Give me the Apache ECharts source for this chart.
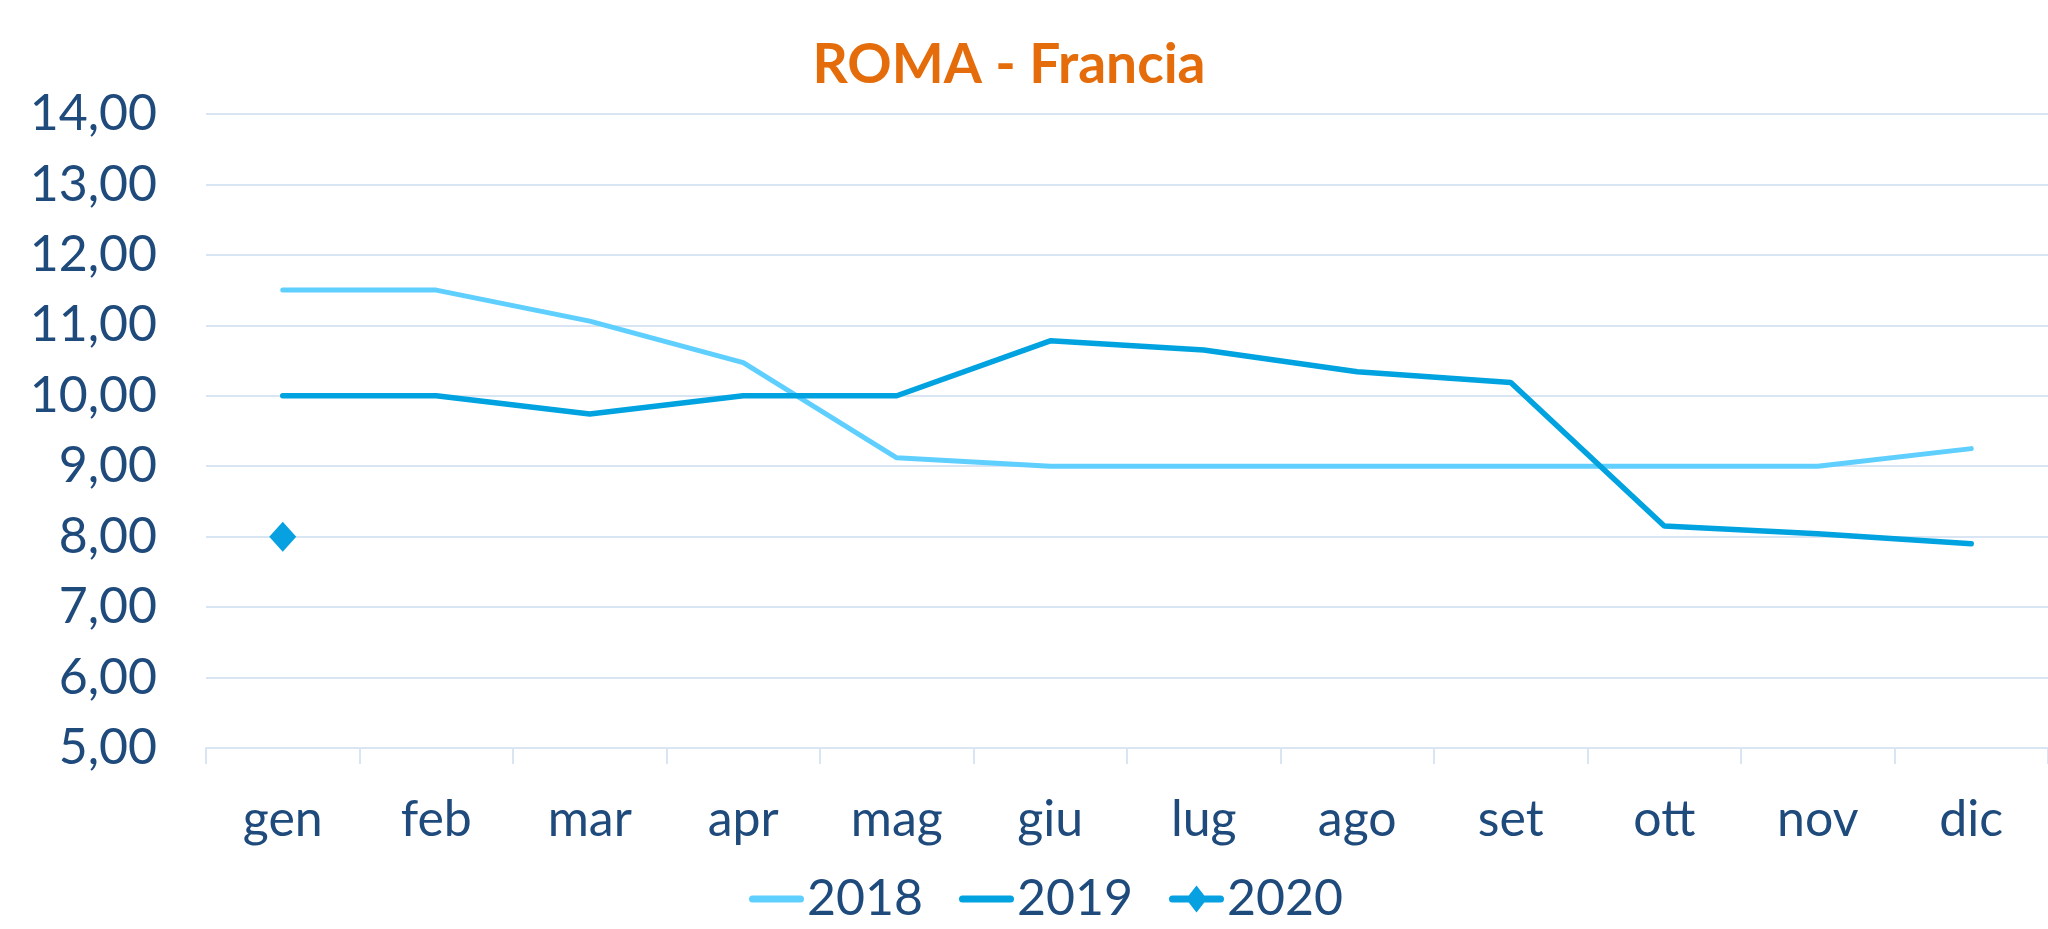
<!DOCTYPE html>
<html>
<head>
<meta charset="utf-8">
<title>ROMA - Francia</title>
<script src="https://cdn.jsdelivr.net/npm/echarts@6/dist/echarts.min.js"></script>
<style>
  html, body { margin: 0; padding: 0; background: #fff; }
  #chart { width: 2048px; height: 929px; }
</style>
</head>
<body>
<div id="chart"></div>
<script>
// chart data
const months = ['gen', 'feb', 'mar', 'apr', 'mag', 'giu', 'lug', 'ago', 'set', 'ott', 'nov', 'dic'];
const values2018 = [11.5, 11.5, 11.06, 10.47, 9.12, 9.0, 9.0, 9.0, 9.0, 9.0, 9.0, 9.25];
const values2019 = [10.0, 10.0, 9.74, 10.0, 10.0, 10.78, 10.65, 10.34, 10.19, 8.15, 8.04, 7.9];
const values2020 = [8.0, null, null, null, null, null, null, null, null, null, null, null];

const textColor = '#1f4a7c';
const gridColor = '#d9e5f3';
const fontFamily = 'Lato, "Open Sans", sans-serif';

// legend icons: a short rounded bar, plus a diamond for 2020
// (the two empty sub-paths keep the box at 55x29 so nothing gets stretched)
const barIcon = 'path://M0,0 L0,0 Z M0,29 L0,29 Z M3.5,11 H51.5 A3.5,3.5 0 0 1 51.5,18 H3.5 A3.5,3.5 0 0 1 3.5,11 Z';
const diamondIcon = barIcon + ' M27.5,1 L38,14.5 L27.5,28 L17,14.5 Z';

const chart = echarts.init(document.getElementById('chart'));

const option = {
  backgroundColor: '#fff',
  animation: false,
  title: {
    text: 'ROMA - Francia',
    left: 1004,
    top: 33,
    textAlign: 'center',
    textStyle: {
      color: '#e46c0a',
      fontFamily: fontFamily,
      fontWeight: 'bold',
      fontSize: 55,
    },
  },
  legend: {
    top: 869,
    left: 744,
    itemWidth: 55,
    itemHeight: 29,
    itemGap: 36,
    textStyle: {
      color: textColor,
      fontFamily: fontFamily,
      fontSize: 50,
      padding: [0, 0, 0, -2],
    },
    data: [
      { name: '2018', icon: barIcon },
      { name: '2019', icon: barIcon },
      { name: '2020', icon: diamondIcon },
    ],
  },
  grid: {
    left: 206,
    right: -16,
    top: 114,
    bottom: 181,
  },
  xAxis: {
    type: 'category',
    data: months,
    boundaryGap: true,
    axisLine: { lineStyle: { color: gridColor, width: 2 } },
    axisTick: { show: true, length: 16, lineStyle: { color: gridColor, width: 2 } },
    axisLabel: {
      color: textColor,
      fontFamily: fontFamily,
      fontSize: 50,
      margin: 47,
    },
    splitLine: { show: false },
  },
  yAxis: {
    type: 'value',
    min: 5,
    max: 14,
    interval: 1,
    axisLine: { show: false },
    axisTick: { show: false },
    axisLabel: {
      color: textColor,
      fontFamily: fontFamily,
      fontSize: 50,
      margin: 49,
      formatter: (v) => v.toFixed(2).replace('.', ','),
    },
    splitLine: { lineStyle: { color: gridColor, width: 2 } },
  },
  series: [
    {
      name: '2018',
      type: 'line',
      data: values2018,
      symbol: 'none',
      itemStyle: { color: '#5fcfff' },
      lineStyle: { color: '#5fcfff', width: 5, cap: 'round' },
    },
    {
      name: '2019',
      type: 'line',
      data: values2019,
      symbol: 'none',
      itemStyle: { color: '#00a3e0' },
      lineStyle: { color: '#00a3e0', width: 5.5, cap: 'round' },
    },
    {
      name: '2020',
      type: 'line',
      data: values2020,
      symbol: 'diamond',
      symbolSize: [27, 30],
      showSymbol: true,
      itemStyle: { color: '#07a0e0' },
      lineStyle: { color: '#07a0e0', width: 5, cap: 'round' },
    },
  ],
};

chart.setOption(option);

window.addEventListener('resize', () => {
  chart.resize();
});
</script>
</body>
</html>
